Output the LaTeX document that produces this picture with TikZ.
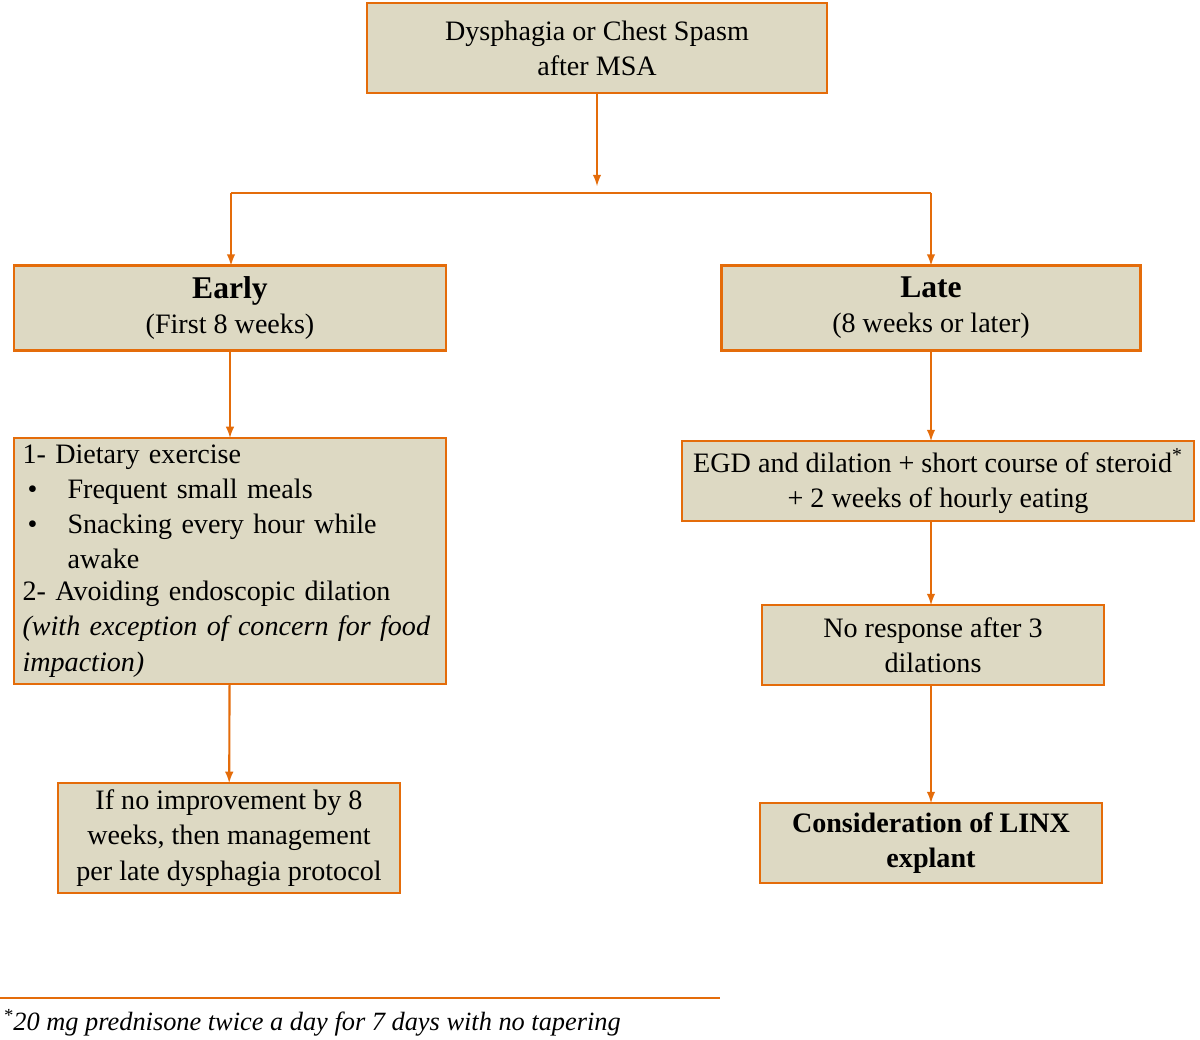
\documentclass[tikz,border=0pt]{standalone}
\usepackage{fontspec}
\setmainfont{Liberation Serif}
\usetikzlibrary{positioning}
\usetikzlibrary{arrows}
\definecolor{boxfill}{RGB}{221,217,195}
\definecolor{boxline}{RGB}{228,108,10}
\tikzset{
	stepbox/.style={draw=boxline,fill=boxfill,line width=1.2pt,outer sep=0pt,inner sep=4pt,align=center,font=\fontsize{16}{20}\selectfont},
	flow/.style={->,>=latex,draw=boxline,line width=1.2pt}
}
\newcommand{\bulletline}[1]{\makebox[0.9cm][l]{\hspace{0.1cm}\textbullet}\parbox[t]{6.5cm}{\raggedright\strut #1\strut}}

\begin{document}
\begin{tikzpicture}[x=0.02cm,y=-0.02cm]
	\useasboundingbox (0,0) rectangle (1200,1040);
	\node [stepbox,minimum width=9.2cm,minimum height=1.8cm] at (597,48) (start) {Dysphagia or Chest Spasm\\after MSA};

	\node [stepbox,minimum width=8.64cm,minimum height=1.7cm] at (230,308) (early) {{\fontsize{18}{22}\selectfont\bfseries Early}\\(First 8 weeks)};
	\node [stepbox,minimum width=8.38cm,minimum height=1.7cm] at (931,308) (late) {{\fontsize{18}{22}\selectfont\bfseries Late}\\(8 weeks or later)};

	\node [stepbox,minimum width=8.64cm,minimum height=4.8cm,text width=8.3cm,align=left] at (230,561) (diet) {1- Dietary exercise\\
		\bulletline{Frequent small meals}\\
		\bulletline{Snacking every hour while awake}\\
		2- Avoiding endoscopic dilation\\
		\textit{(with exception of concern for food impaction)}};
	\node [stepbox,minimum width=6.84cm,minimum height=2.2cm] at (229,838) (noimprove) {If no improvement by 8\\weeks, then management\\per late dysphagia protocol};

	\node [stepbox,minimum width=10.24cm,minimum height=1.6cm] at (938,481) (egd) {EGD and dilation + short course of steroid\textsuperscript{*}\\+ 2 weeks of hourly eating};
	\node [stepbox,minimum width=6.84cm,minimum height=1.6cm] at (933,645) (noresp) {No response after 3\\dilations};
	\node [stepbox,minimum width=6.84cm,minimum height=1.6cm,font=\fontsize{16}{20}\selectfont\bfseries] at (931,843) (linx) {Consideration of LINX\\explant};

	\coordinate (split) at (597,193);
	\draw[flow] (start) -- (597,186);
	\draw[draw=boxline,line width=1.2pt] (231,193) -- (931,193);
	\draw[flow] (231,193) -- (early.north -| 231,0);
	\draw[flow] (931,193) -- (late.north -| 931,0);

	\draw[flow] (early) -- (diet);
	\draw[flow] (diet) -- (noimprove);
	\draw[flow] (late.south -| 931,0) -- (egd.north -| 931,0);
	\draw[flow] (egd.south -| 931,0) -- (noresp.north -| 931,0);
	\draw[flow] (noresp.south -| 931,0) -- (linx);

	\draw[draw=boxline,line width=0.8pt] (0,998) -- (720,998);
	\node [anchor=west,inner sep=0pt,font=\fontsize{15}{18}\selectfont\itshape] at (3,1023) (note) {\textsuperscript{*}20 mg prednisone twice a day for 7 days with no tapering};
\end{tikzpicture}
\end{document}
